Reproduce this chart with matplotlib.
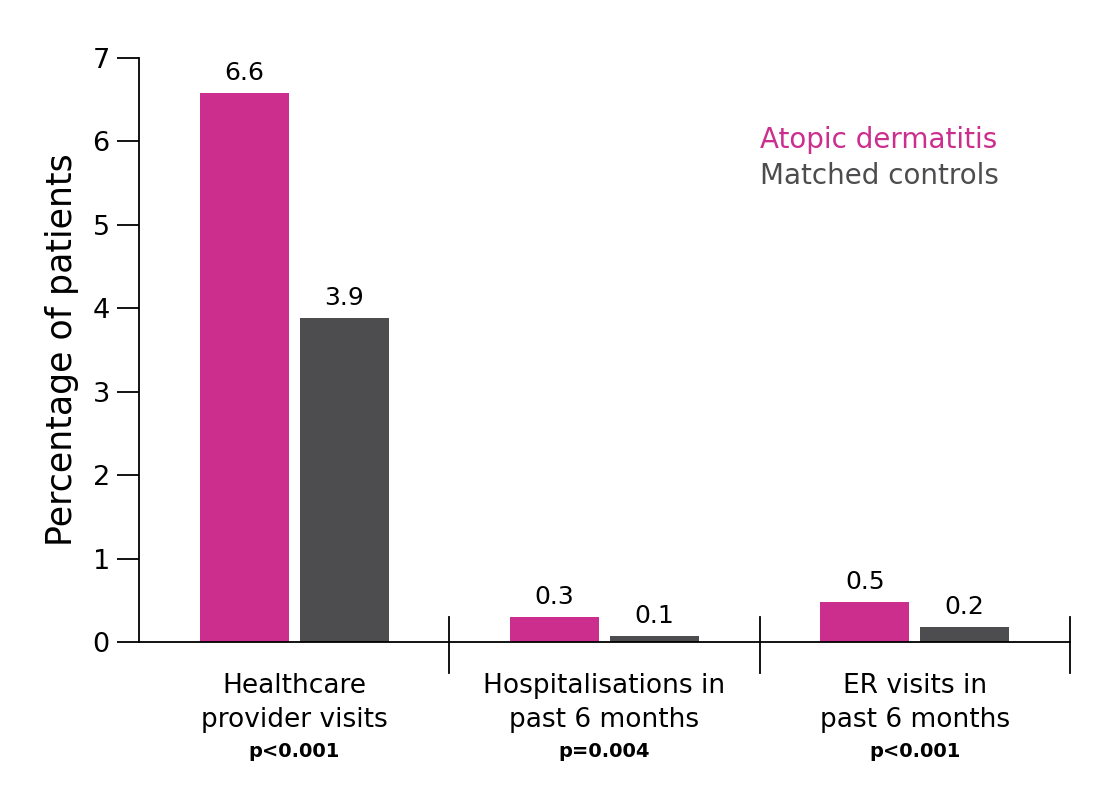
import matplotlib.pyplot as plt
import numpy as np

plt.rcParams['font.family'] = ['DejaVu Sans']

# dados
categorias = ['Healthcare\nprovider visits', 'Hospitalisations in\npast 6 months', 'ER visits in\npast 6 months']
p_valores = ['p<0.001', 'p=0.004', 'p<0.001']
atopica = [6.58, 0.30, 0.48]
controles = [3.88, 0.07, 0.18]
rot_atopica = ['6.6', '0.3', '0.5']
rot_controles = ['3.9', '0.1', '0.2']

rosa = '#CC2E8E'
cinza = '#4D4D4F'

fig = plt.figure(figsize=(11.13, 7.98), dpi=100)
ax = fig.add_axes([139 / 1113, 1 - 642 / 798, 931 / 1113, 584 / 798])

x = np.arange(len(categorias))
larg = 0.287
desl = 0.161

b1 = ax.bar(x - desl, atopica, larg, color=rosa)
b2 = ax.bar(x + desl, controles, larg, color=cinza)

for barra, txt in zip(list(b1) + list(b2), rot_atopica + rot_controles):
    ax.text(barra.get_x() + barra.get_width() / 2, barra.get_height() + 0.1, txt,
            ha='center', va='bottom', fontsize=18)

ax.set_xlim(-0.5, 2.5)
ax.set_ylim(0, 7)
ax.set_yticks(range(8))
ax.tick_params(axis='y', direction='out', length=16, width=1.3, labelsize=19.5, pad=5)
ax.set_xticks([])
for lado in ['top', 'right']:
    ax.spines[lado].set_visible(False)
ax.spines['left'].set_linewidth(1.3)
ax.spines['bottom'].set_linewidth(1.3)

# separadores
for xs in [0.5, 1.5, 2.5]:
    ax.plot([xs, xs], [-0.37, 0.3], color='black', lw=1.3, clip_on=False)

# rótulos das categorias
for xi, cat, p in zip(x, categorias, p_valores):
    ax.text(xi, -0.37, cat, ha='center', va='top', fontsize=19, linespacing=1.4)
    ax.text(xi, -1.2, p, ha='center', va='top', fontsize=14, fontweight='bold')

ax.set_ylabel('Percentage of patients', fontsize=25, labelpad=10)

# legenda em texto
ax.text(1.50, 6.02, 'Atopic dermatitis', color=rosa, fontsize=20, va='center')
ax.text(1.50, 5.58, 'Matched controls', color=cinza, fontsize=20, va='center')

plt.savefig('out.png', dpi=100)
